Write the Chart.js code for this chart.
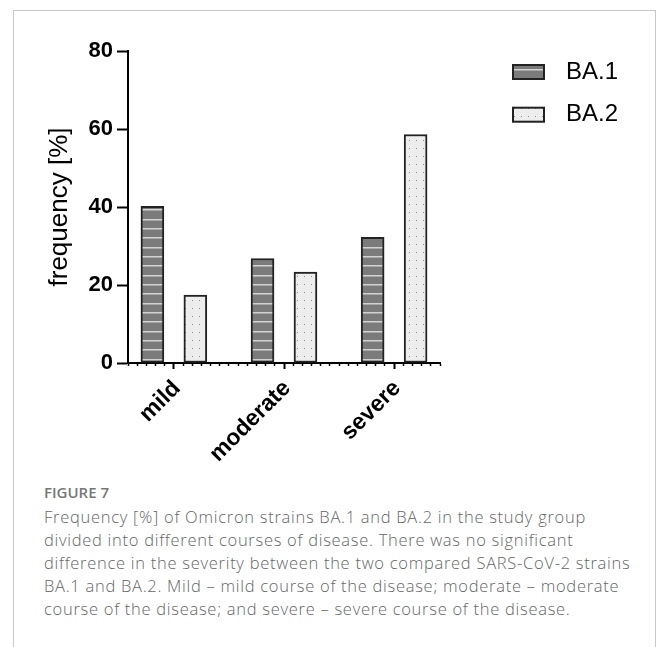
<!DOCTYPE html>
<html>
<head>
<meta charset="utf-8">
<script src="https://cdn.jsdelivr.net/npm/chart.js@4.4.0/dist/chart.umd.min.js"></script>
<style>
  html, body { margin: 0; padding: 0; background: #fff; width: 656px; height: 647px; overflow: hidden; }
  #frame { position: absolute; left: 13px; top: 10px; width: 641px; height: 700px; border: 1px solid #c8c8c8; border-bottom: none; }
  #wrap { position: absolute; left: 0; top: 0; width: 656px; height: 480px; }
  #fig { position: absolute; left: 44px; top: 483px; font: 600 15px/18px 'Open Sans', sans-serif; color: #777; }
  #cap { position: absolute; left: 44px; top: 505px; font: 300 16.5px/23.1px 'Open Sans', sans-serif; letter-spacing: 0.72px; color: #666; white-space: nowrap; }
</style>
</head>
<body>
<div id="frame"></div>
<div id="wrap"><canvas id="freqChart" width="656" height="480"></canvas></div>
<div id="fig">FIGURE 7</div>
<div id="cap">Frequency [%] of Omicron strains BA.1 and BA.2 in the study group<br>divided into different courses of disease. There was no significant<br>difference in the severity between the two compared SARS-CoV-2 strains<br>BA.1 and BA.2. Mild – mild course of the disease; moderate – moderate<br>course of the disease; and severe – severe course of the disease.</div>
<script>
const categories = ['mild', 'moderate', 'severe'];
const seriesNames = ['BA.1', 'BA.2'];
const ba1Values = [40.2, 26.8, 32.2];
const ba2Values = [17.4, 23.3, 58.6];
const yTicks = [0, 20, 40, 60, 80];

const arial = '"Liberation Sans", Arial, sans-serif';

// fill patterns like the Prism figure
function stripePattern() {
    const c = document.createElement('canvas');
    c.width = 8; c.height = 28;
    const g = c.getContext('2d');
    g.fillStyle = '#7b7b7b';
    g.fillRect(0, 0, 8, 28);
    [4, 13, 23].forEach(y => {
        g.fillStyle = '#d2d2d2'; g.fillRect(0, y, 8, 1);
        g.fillStyle = '#a8a8a8'; g.fillRect(0, y + 1, 8, 1);
    });
    return g.createPattern(c, 'repeat');
}

function dotPattern() {
    const c = document.createElement('canvas');
    c.width = 7; c.height = 8;
    const g = c.getContext('2d');
    g.fillStyle = '#ededed';
    g.fillRect(0, 0, 7, 8);
    g.fillStyle = '#8c8c8c';
    g.fillRect(3, 4, 1, 1);
    return g.createPattern(c, 'repeat');
}

const toPoints = vals => vals.map((v, i) => ({ x: i, y: v }));
const isMajor = c => !c.tick || Number.isInteger(c.tick.value);

// legend on the right, drawn by hand so the plot area stays put
const sideLegend = {
    id: 'sideLegend',
    afterDraw(chart) {
        const ctx = chart.ctx;
        chart.data.datasets.forEach((ds, i) => {
            const y = 64 + i * 42.7;
            ctx.save();
            ctx.fillStyle = ds.backgroundColor;
            ctx.fillRect(512, y, 33, 16);
            ctx.lineWidth = 2;
            ctx.strokeStyle = ds.borderColor;
            ctx.strokeRect(513, y + 1, 31, 14);
            ctx.fillStyle = '#000';
            ctx.font = '24px ' + arial;
            ctx.textBaseline = 'middle';
            ctx.fillText(ds.label, 566, y + 8);
            ctx.restore();
        });
    }
};

const ctx = document.getElementById('freqChart').getContext('2d');

new Chart(ctx, {
    type: 'bar',
    data: {
        datasets: [
            { label: seriesNames[0], data: toPoints(ba1Values), backgroundColor: stripePattern(), borderColor: '#222', borderWidth: 2, borderSkipped: false },
            { label: seriesNames[1], data: toPoints(ba2Values), backgroundColor: dotPattern(), borderColor: '#222', borderWidth: 2, borderSkipped: false }
        ]
    },
    options: {
        responsive: false,
        animation: false,
        devicePixelRatio: 1,
        barThickness: 'flex',
        categoryPercentage: 0.78,
        barPercentage: 0.535,
        layout: { padding: { left: 0, right: 216, top: 51, bottom: 0 } },
        plugins: { legend: { display: false }, tooltip: { enabled: false } },
        scales: {
            x: {
                type: 'linear',
                offset: false,
                min: -5 / 12,
                max: 29 / 12,
                afterBuildTicks: scale => {
                    const t = [];
                    for (let k = -5; k <= 29; k++) t.push({ value: k / 12 });
                    scale.ticks = t;
                },
                afterFit: scale => { scale.height = 117; },
                border: { display: true, color: '#000', width: 2 },
                grid: {
                    offset: false,
                    drawOnChartArea: false,
                    tickLength: 6,
                    tickColor: '#000',
                    tickWidth: c => isMajor(c) ? 2 : 1.5,
                    tickBorderDash: c => isMajor(c) ? [] : [2, 40]
                },
                ticks: {
                    autoSkip: false,
                    minRotation: 45,
                    maxRotation: 45,
                    padding: 6,
                    labelOffset: 3,
                    color: '#000',
                    font: { family: arial, size: 23, weight: 'bold' },
                    callback: v => Number.isInteger(v) ? categories[v] : ''
                }
            },
            y: {
                min: 0,
                max: 80,
                afterBuildTicks: scale => { scale.ticks = yTicks.map(v => ({ value: v })); },
                afterFit: scale => { scale.width = 128; },
                border: { display: true, color: '#000', width: 2 },
                grid: { drawOnChartArea: false, tickLength: 11, tickColor: '#000', tickWidth: 2 },
                ticks: {
                    padding: 4,
                    color: '#000',
                    font: { family: arial, size: 22, weight: 'bold' }
                },
                title: {
                    display: true,
                    text: 'frequency [%]',
                    color: '#000',
                    font: { family: arial, size: 26 },
                    padding: { top: 44, bottom: 0 }
                }
            }
        }
    },
    plugins: [sideLegend]
});
</script>
</body>
</html>
